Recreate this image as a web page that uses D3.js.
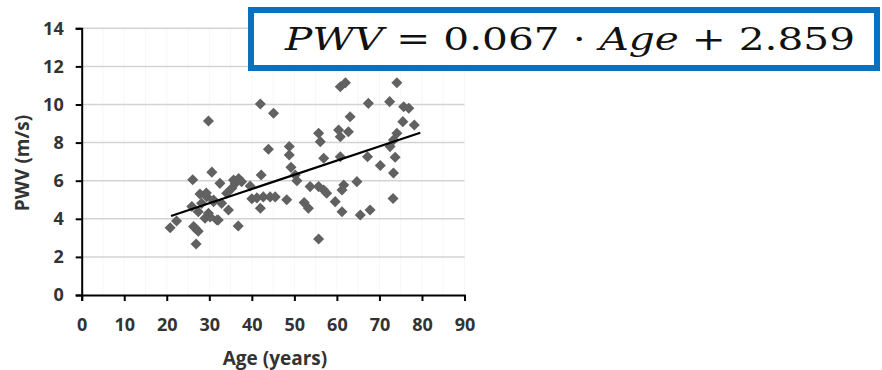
<!DOCTYPE html>
<html>
<head>
<meta charset="utf-8">
<script src="https://cdn.jsdelivr.net/npm/d3@7"></script>
<style>
  html, body { margin: 0; padding: 0; background: #fff; }
  svg { display: block; }
</style>
</head>
<body>
<svg id="chart"></svg>
<script>
// age (years) and PWV (m/s) per subject
const ages = [
    20.8, 22.3, 26.1, 25.9, 26.9, 26.3, 27.4, 27.4, 28.2, 27.8,
    29.3, 29.8, 30.6, 29.8, 31.0, 31.8, 29.0, 30.2, 32.1, 32.5,
    32.9, 29.4, 31.0, 34.1, 35.3, 36.1, 36.9, 34.5, 36.8, 37.6,
    39.6, 40.0, 41.2, 42.7, 44.3, 45.5, 48.2, 42.0, 42.2, 42.0,
    45.1, 43.9, 48.8, 48.8, 49.2, 50.2, 50.6, 52.3, 53.3, 53.7,
    55.7, 56.9, 57.6, 55.7, 56.1, 56.9, 55.7, 59.6, 61.2, 61.6,
    61.2, 60.8, 62.0, 60.4, 62.7, 60.8, 60.8, 63.1, 64.7, 65.5,
    67.8, 67.4, 67.2, 70.2, 72.4, 74.1, 75.7, 76.9, 75.5, 78.2,
    74.1, 73.3, 72.5, 73.7, 73.3, 73.2, 35.7, 26.7
]
const pwv = [
    3.53, 3.88, 6.05, 4.65, 2.68, 3.60, 3.35, 4.37, 4.81, 5.30,
    5.35, 9.13, 6.45, 4.29, 4.90, 3.94, 4.03, 4.10, 3.94, 5.86,
    4.81, 5.16, 4.99, 5.34, 5.60, 5.86, 6.12, 4.46, 3.62, 5.95,
    5.72, 5.05, 5.10, 5.15, 5.15, 5.15, 5.00, 4.55, 6.30, 10.03,
    9.54, 7.65, 7.80, 7.35, 6.70, 6.30, 6.00, 4.85, 4.55, 5.69,
    5.69, 5.51, 5.34, 8.49, 8.05, 7.18, 2.94, 4.90, 4.37, 5.77,
    5.51, 10.93, 11.14, 8.66, 8.57, 8.31, 7.26, 9.36, 5.95, 4.20,
    4.46, 10.06, 7.26, 6.80, 10.15, 11.14, 9.88, 9.80, 9.10, 8.92,
    8.49, 8.14, 7.79, 7.23, 6.40, 5.07, 6.04, 3.50
]

// fitted line as drawn
const trendAges = [21.0, 79.6]
const trendPwv = [4.15, 8.52]

const xTicks = [0, 10, 20, 30, 40, 50, 60, 70, 80, 90]
const yTicks = [0, 2, 4, 6, 8, 10, 12, 14]
const minorXTicks = d3.range(0, 95, 5)

const xTitle = "Age (years)"
const yTitle = "PWV (m/s)"

const width = 882
const height = 370

const svg = d3.select("#chart")
    .attr("width", width)
    .attr("height", height)
    .attr("viewBox", [0, 0, width, height])

const x = d3.scaleLinear().domain([0, 90]).range([81.7, 464.5])
const y = d3.scaleLinear().domain([0, 14]).range([295, 28.3])

const tickFont = "'Open Sans', 'DejaVu Sans', sans-serif"

// faint minor vertical grid
svg.append("g")
    .selectAll("line")
    .data(minorXTicks)
    .join("line")
    .attr("x1", (d) => x(d))
    .attr("x2", (d) => x(d))
    .attr("y1", y(14))
    .attr("y2", y(0))
    .attr("stroke", "#f7f7f7")
    .attr("stroke-width", 1)

// horizontal grid
svg.append("g")
    .selectAll("line")
    .data(yTicks.filter((d) => d > 0))
    .join("line")
    .attr("x1", x(0))
    .attr("x2", x(90))
    .attr("y1", (d) => y(d))
    .attr("y2", (d) => y(d))
    .attr("stroke", "#d3d3d3")
    .attr("stroke-width", 1.5)

// points
const diamond = d3.symbol().type(d3.symbolDiamond2).size(78)

svg.append("g")
    .selectAll("path")
    .data(ages)
    .join("path")
    .attr("d", diamond)
    .attr("transform", (d, i) => `translate(${x(d)},${y(pwv[i])})`)
    .attr("fill", "#616161")

// trend line
svg.append("path")
    .datum(trendAges)
    .attr("d", d3.line().x((d) => x(d)).y((d, i) => y(trendPwv[i])))
    .attr("stroke", "#000")
    .attr("stroke-width", 2.2)
    .attr("fill", "none")

// axes
const xAxis = svg.append("g")
    .attr("transform", `translate(0,${y(0)})`)
    .call(d3.axisBottom(x).tickValues(xTicks).tickSize(6).tickPadding(17))

const yAxis = svg.append("g")
    .attr("transform", `translate(${x(0)},0)`)
    .call(d3.axisLeft(y).tickValues(yTicks).tickSize(6).tickPadding(12))

for (const axis of [xAxis, yAxis]) {
    axis.select(".domain").attr("stroke", "#000").attr("stroke-width", 2)
    axis.selectAll(".tick line").attr("stroke", "#000").attr("stroke-width", 2)
    axis.selectAll(".tick text")
        .attr("font-family", tickFont)
        .attr("font-weight", "bold")
        .attr("font-size", 18)
        .attr("fill", "#333")
}

// axis titles
svg.append("text")
    .text(xTitle)
    .attr("x", 275)
    .attr("y", 365)
    .attr("text-anchor", "middle")
    .attr("font-family", tickFont)
    .attr("font-weight", "bold")
    .attr("font-size", 19)
    .attr("fill", "#333")

svg.append("text")
    .text(yTitle)
    .attr("transform", "translate(29,163) rotate(-90)")
    .attr("text-anchor", "middle")
    .attr("font-family", tickFont)
    .attr("font-weight", "bold")
    .attr("font-size", 19)
    .attr("fill", "#333")

// equation box
svg.append("rect")
    .attr("x", 251)
    .attr("y", 10)
    .attr("width", 626)
    .attr("height", 58)
    .attr("fill", "#fff")
    .attr("stroke", "#0a70c0")
    .attr("stroke-width", 6)

const eq = svg.append("text")
    .attr("x", 285)
    .attr("y", 50)
    .attr("font-family", "'DejaVu Serif', serif")
    .attr("font-size", 32)
    .attr("fill", "#111")
    .attr("textLength", 570)
    .attr("lengthAdjust", "spacingAndGlyphs")

const eqParts = [
    { t: "PWV", italic: true },
    { t: " = 0.067 \u22C5 ", italic: false },
    { t: "Age", italic: true },
    { t: " + 2.859", italic: false }
]

eq.selectAll("tspan")
    .data(eqParts)
    .join("tspan")
    .text((d) => d.t)
    .attr("font-style", (d) => (d.italic ? "italic" : "normal"))
</script>
</body>
</html>
